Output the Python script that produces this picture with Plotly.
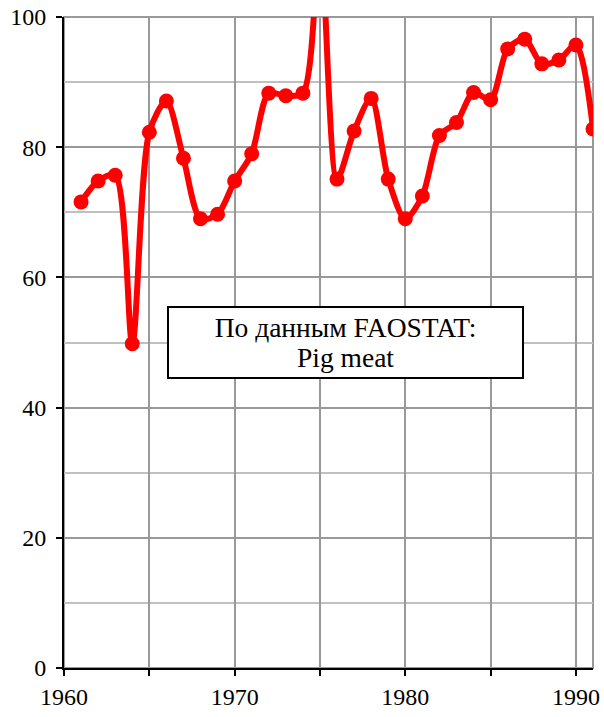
import plotly.graph_objects as go

# Данные
years = [1961, 1962, 1963, 1964, 1965, 1966, 1967, 1968, 1969, 1970,
         1971, 1972, 1973, 1974, 1975, 1976, 1977, 1978, 1979, 1980,
         1981, 1982, 1983, 1984, 1985, 1986, 1987, 1988, 1989, 1990, 1991]
values = [71.6, 74.8, 75.7, 49.8, 82.3, 87.1, 78.3, 69.0, 69.7, 74.8,
          79.0, 88.3, 87.9, 88.3, 112.0, 75.1, 82.5, 87.5, 75.1, 69.0,
          72.5, 81.8, 83.8, 88.4, 87.3, 95.1, 96.6, 92.8, 93.4, 95.7, 82.8]

x_ticks = [1960, 1965, 1970, 1975, 1980, 1985, 1990]
x_labels = ['1960', '', '1970', '', '1980', '', '1990']
y_ticks = [0, 20, 40, 60, 80, 100]

FONT = 'Liberation Serif'

fig = go.Figure()

fig.add_trace(go.Scatter(
    x=years, y=values,
    mode='lines+markers',
    line=dict(color='#ff0000', width=6, shape='spline', smoothing=0.8),
    marker=dict(color='#ff0000', size=15),
    showlegend=False,
))

# серая рамка области построения (верх и правый край)
fig.add_shape(type='rect', xref='paper', yref='paper', x0=0, x1=1, y0=0, y1=1,
              line=dict(color='#999999', width=2), layer='below')

# подпись в рамке (межстрочный интервал задаётся базовым размером шрифта)
fig.add_annotation(
    x=1976.5, y=49.95,
    text='<span style="font-size:27.5px">По данным FAOSTAT:</span><br>'
         '<span style="font-size:27.5px">Pig meat</span>',
    showarrow=False,
    font=dict(family=FONT, size=23, color='black'),
    align='center', valign='middle',
    width=353, height=69,
    bgcolor='white', bordercolor='black', borderwidth=2, borderpad=0,
)

fig.update_xaxes(
    range=[1960, 1991],
    tickvals=x_ticks, ticktext=x_labels,
    ticks='outside', ticklen=6, tickwidth=2, tickcolor='black',
    showline=True, linecolor='black', linewidth=2,
    showgrid=True, gridcolor='#999999', gridwidth=2,
    zeroline=False, automargin=False, ticklabeloverflow='allow',
    tickfont=dict(family=FONT, size=24, color='black'),
)
fig.update_yaxes(
    range=[0, 100],
    tickvals=y_ticks,
    ticks='outside', ticklen=6, tickwidth=2, tickcolor='black',
    showline=True, linecolor='black', linewidth=2,
    showgrid=True, gridcolor='#999999', gridwidth=2,
    minor=dict(dtick=10, showgrid=True, gridcolor='#c0c0c0', gridwidth=2),
    zeroline=False, automargin=False, ticklabelstandoff=5,
    ticklabeloverflow='allow',
    tickfont=dict(family=FONT, size=24, color='black'),
)

fig.update_layout(
    width=604, height=717,
    margin=dict(l=64, r=11, t=17, b=49),
    paper_bgcolor='white', plot_bgcolor='white',
    font=dict(family=FONT),
)

# убираем стандартный отступ страницы, чтобы фигура заняла всё окно
fig.write_html("out.html",
               config={'displayModeBar': False},
               post_script="document.body.style.margin='0';")
